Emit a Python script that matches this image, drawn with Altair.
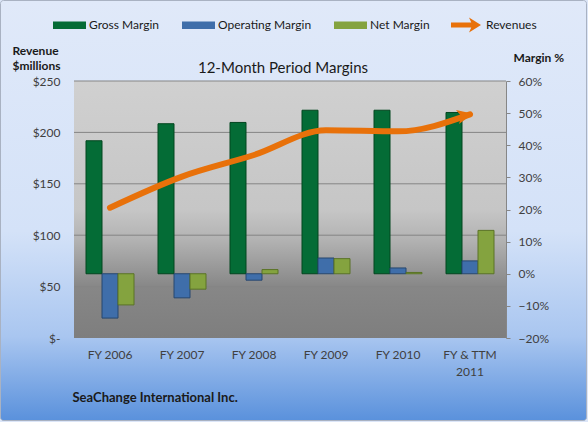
import altair as alt
import pandas as pd

# ---------------- data ----------------
categories = ["FY 2006", "FY 2007", "FY 2008", "FY 2009", "FY 2010", "FY & TTM\n2011"]
series_names = ["Gross Margin", "Operating Margin", "Net Margin"]
gross_margin = [41.4, 46.7, 47.1, 50.9, 50.9, 50.2]
operating_margin = [-13.8, -7.5, -2.0, 4.9, 1.8, 4.0]
net_margin = [-9.7, -4.8, 1.3, 4.7, 0.4, 13.5]
revenues = [126.7, 157.0, 178.0, 202.0, 201.0, 217.6]
revenue_ticks = [0, 50, 100, 150, 200, 250]
grid_values = [50, 100, 150, 200, 250]
margin_ticks = [-0.2, -0.1, 0.0, 0.1, 0.2, 0.3, 0.4, 0.5, 0.6]
chart_title = "12-Month Period Margins"
bar_colors = ["#046C36", "#3F6EAA", "#84A33F"]
bar_edges = ["#02461F", "#27476F", "#5A7326"]
line_color = "#E8710A"

W, H = 432, 257
PAD_L, PAD_T, PAD_R, PAD_B = 74, 81, 82, 84
FONT = "Lato"

rows = []
for cat, g, o, n in zip(categories, gross_margin, operating_margin, net_margin):
    for s, v in zip(series_names, [g, o, n]):
        rows.append({"category": cat, "series": s, "value": v / 100.0})
bars_df = pd.DataFrame(rows)
rev_df = pd.DataFrame({"category": categories, "revenue": revenues})
arrow_df = pd.DataFrame({"category": [categories[-1]], "revenue": [revenues[-1]], "name": ["Revenues"]})
grid_df = pd.DataFrame({"v": grid_values})
one = pd.DataFrame({"a": [0]})

# ---------------- backgrounds ----------------
outer_grad = alt.LinearGradient(
    gradient="linear", x1=0, x2=0, y1=0, y2=1,
    stops=[alt.GradientStop(color="#E0E9F9", offset=0),
           alt.GradientStop(color="#D4E2F8", offset=0.55),
           alt.GradientStop(color="#A9C6F0", offset=0.8),
           alt.GradientStop(color="#5A91DC", offset=1)])
outer_bg = alt.Chart(one).mark_rect(fill=outer_grad, stroke="#A9B2C2", strokeWidth=1, cornerRadius=3).encode(
    x=alt.value(-PAD_L + 0.5), x2=alt.value(W + PAD_R - 1.5),
    y=alt.value(-PAD_T + 0.5), y2=alt.value(H + PAD_B - 1.5))

plot_grad = alt.LinearGradient(
    gradient="linear", x1=0, x2=0, y1=0, y2=1,
    stops=[alt.GradientStop(color="#D0D0D0", offset=0),
           alt.GradientStop(color="#C6C6C6", offset=0.5),
           alt.GradientStop(color="#B2B2B2", offset=0.62),
           alt.GradientStop(color="#878787", offset=0.8),
           alt.GradientStop(color="#7E7E7E", offset=1)])
plot_bg = alt.Chart(one).mark_rect(fill=plot_grad).encode(
    x=alt.value(0), x2=alt.value(W), y=alt.value(0), y2=alt.value(H))

title_mark = alt.Chart(one).mark_text(fontSize=15, font=FONT, color="#1A1A1A",
                                      align="center", baseline="middle").encode(
    x=alt.value(209), y=alt.value(-13), text=alt.value(chart_title))

grid = alt.Chart(grid_df).mark_rule(color="#858585", strokeWidth=1).encode(
    y=alt.Y("v:Q", scale=alt.Scale(domain=[0, 250]), axis=None),
    x=alt.value(0), x2=alt.value(W))

# ---------------- bars ----------------
x_enc = alt.X("category:N", sort=categories,
              scale=alt.Scale(paddingInner=1/3, paddingOuter=1/6),
              axis=alt.Axis(title="SeaChange International Inc.", labelAngle=0,
                            labelExpr="split(datum.label, '\\n')",
                            labelFontSize=12, labelColor="#404040", labelPadding=11,
                            labelLineHeight=17, labelFont=FONT,
                            ticks=False, domain=False, grid=False, zindex=1,
                            titleAngle=0, titleAlign="left", titleX=-2, titleY=59,
                            titleBaseline="middle", titleFontSize=13, titleFontWeight="bold",
                            titleColor="#1A1A1A", titleFont=FONT))

bars = alt.Chart(bars_df).mark_bar(strokeWidth=1).encode(
    x=x_enc,
    xOffset=alt.XOffset("series:N", sort=series_names,
                        scale=alt.Scale(paddingInner=0, paddingOuter=0)),
    y=alt.Y("value:Q", scale=alt.Scale(domain=[-0.2, 0.6], nice=False),
            axis=alt.Axis(orient="right", values=margin_ticks, format=".0%",
                          domain=True, domainColor="#868686", ticks=True, tickSize=4,
                          tickColor="#868686", labelPadding=8, labelFontSize=12,
                          labelColor="#404040", labelFont=FONT, grid=False, zindex=1,
                          title="Margin %", titleAngle=0, titleAlign="left", titleX=7,
                          titleY=-24, titleBaseline="middle", titleFontSize=12,
                          titleFontWeight="bold", titleColor="#1A1A1A", titleFont=FONT)),
    color=alt.Color("series:N", sort=series_names,
                    scale=alt.Scale(domain=series_names, range=bar_colors),
                    legend=alt.Legend(orient="none", direction="horizontal", title=None,
                                      legendX=-21, legendY=-72.5, symbolType="M-1,-0.22H1V0.22H-1Z",
                                      symbolSize=1089, symbolStrokeWidth=0, labelOffset=3,
                                      columnPadding=22, labelFontSize=12, labelColor="#1A1A1A",
                                      labelFont=FONT, padding=0, labelLimit=200)),
    stroke=alt.Stroke("series:N", sort=series_names,
                      scale=alt.Scale(domain=series_names, range=bar_edges), legend=None))

# ---------------- revenue line ----------------
line = alt.Chart(rev_df).mark_line(color=line_color, strokeWidth=6, interpolate="monotone",
                                   strokeCap="round").encode(
    x=alt.X("category:N", sort=categories),
    y=alt.Y("revenue:Q", scale=alt.Scale(domain=[0, 250], nice=False),
            axis=alt.Axis(orient="left", values=revenue_ticks,
                          labelExpr="datum.value == 0 ? '$-' : '$' + datum.value",
                          domain=False, ticks=False, tickSize=0, labelPadding=14,
                          labelFontSize=12, labelColor="#404040", labelFont=FONT,
                          grid=False, zindex=1,
                          title=["Revenue", "$millions"], titleAngle=0, titleAlign="left",
                          titleX=-62, titleY=-36, titleBaseline="top", titleLineHeight=15,
                          titleFontSize=12, titleFontWeight="bold", titleColor="#1A1A1A",
                          titleFont=FONT)))

arrow = alt.Chart(arrow_df).mark_point(filled=True, opacity=1, size=256, angle=348,
                                       shape="M0.4,0L-1.6,-0.9L-1.1,0L-1.6,0.9Z").encode(
    x=alt.X("category:N", sort=categories),
    y=alt.Y("revenue:Q", scale=alt.Scale(domain=[0, 250], nice=False), axis=None),
    color=alt.Color("name:N", scale=alt.Scale(domain=["Revenues"], range=[line_color]),
                    legend=alt.Legend(orient="none", direction="horizontal", title=None,
                                      legendX=377, legendY=-71,
                                      symbolType="M-1,-0.17L0.35,-0.17L0.2,-0.5L1,0L0.2,0.5L0.35,0.17L-1,0.17Z",
                                      symbolSize=900, symbolStrokeWidth=0, labelOffset=5,
                                      labelFontSize=12, labelColor="#1A1A1A", labelFont=FONT,
                                      padding=0)))

chart = alt.layer(outer_bg, plot_bg, title_mark, grid, bars, line, arrow).resolve_scale(
    y="independent", color="independent", stroke="independent"
).properties(
    width=W, height=H,
    padding={"left": PAD_L, "top": PAD_T, "right": PAD_R, "bottom": PAD_B},
    autosize=alt.AutoSizeParams(type="none"),
    background="#DCE6F8",
).configure_view(stroke=None).configure(font=FONT)

chart.save("out.html", embed_options={"renderer": "svg", "actions": False})
